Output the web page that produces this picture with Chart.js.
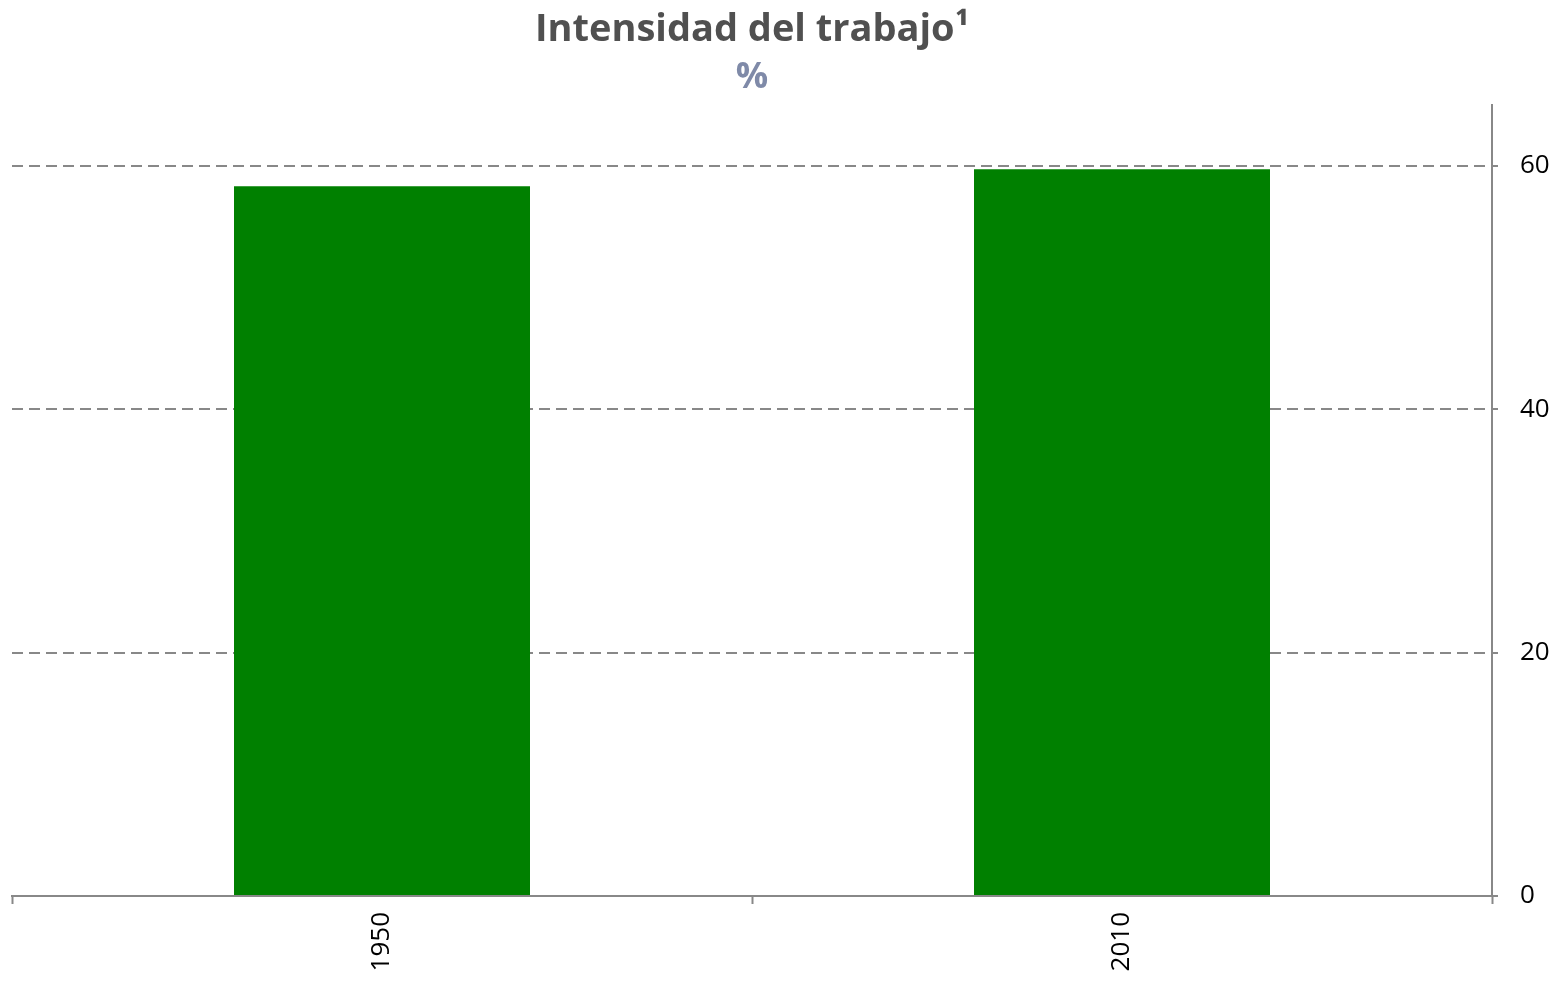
<!DOCTYPE html>
<html>
<head>
<meta charset="utf-8">
<script src="https://cdn.jsdelivr.net/npm/chart.js@4"></script>
<style>
  html, body { margin: 0; padding: 0; background: #fff; }
  #wrap { width: 1564px; height: 982px; }
</style>
</head>
<body>
<div id="wrap"><canvas id="ctx" width="1564" height="982"></canvas></div>
<script>
const categories = ['1950', '2010'];
const values = [58.3, 59.7];
const yTicks = [0, 20, 40, 60];

const ctx = document.getElementById('ctx');
new Chart(ctx, {
  type: 'bar',
  data: {
    labels: categories,
    datasets: [{
      label: 'Intensidad del trabajo',
      data: values,
      backgroundColor: '#008000',
      barPercentage: 0.4,
      categoryPercentage: 1.0
    }]
  },
  options: {
    responsive: false,
    animation: false,
    layout: { padding: { left: 12, right: 0, top: 7, bottom: 0 } },
    plugins: {
      legend: { display: false },
      tooltip: { enabled: false },
      title: {
        display: true,
        fullSize: false,
        text: 'Intensidad del trabajo¹',
        color: '#505050',
        font: { family: 'Open Sans', size: 38, weight: 'bold' },
        padding: { top: 0, bottom: 0 }
      },
      subtitle: {
        display: true,
        fullSize: false,
        text: '%',
        color: '#7f8aa8',
        font: { family: 'Open Sans', size: 36, weight: 'bold' },
        padding: { top: 4, bottom: 5 }
      }
    },
    scales: {
      x: {
        grid: {
          offset: true,
          drawOnChartArea: false,
          drawTicks: true,
          tickLength: 8,
          tickColor: '#888888',
          tickWidth: 2
        },
        border: { color: '#888888', width: 2 },
        ticks: {
          color: '#000',
          font: { family: 'Open Sans', size: 26 },
          minRotation: 90,
          maxRotation: 90,
          padding: 8
        },
        afterFit: (scale) => { scale.height = 86; }
      },
      y: {
        position: 'right',
        min: 0,
        max: 65,
        afterBuildTicks: (scale) => {
          scale.ticks = yTicks.map(v => ({ value: v }));
        },
        grid: {
          color: '#888888',
          lineWidth: 2,
          tickColor: '#888888',
          tickLength: 6,
          tickBorderDash: [],
          drawTicks: true
        },
        border: { color: '#888888', width: 2, dash: [11, 6] },
        ticks: {
          color: '#000',
          font: { family: 'Open Sans', size: 26 },
          padding: 22
        },
        afterFit: (scale) => { scale.width = 72; }
      }
    }
  }
});
</script>
</body>
</html>
